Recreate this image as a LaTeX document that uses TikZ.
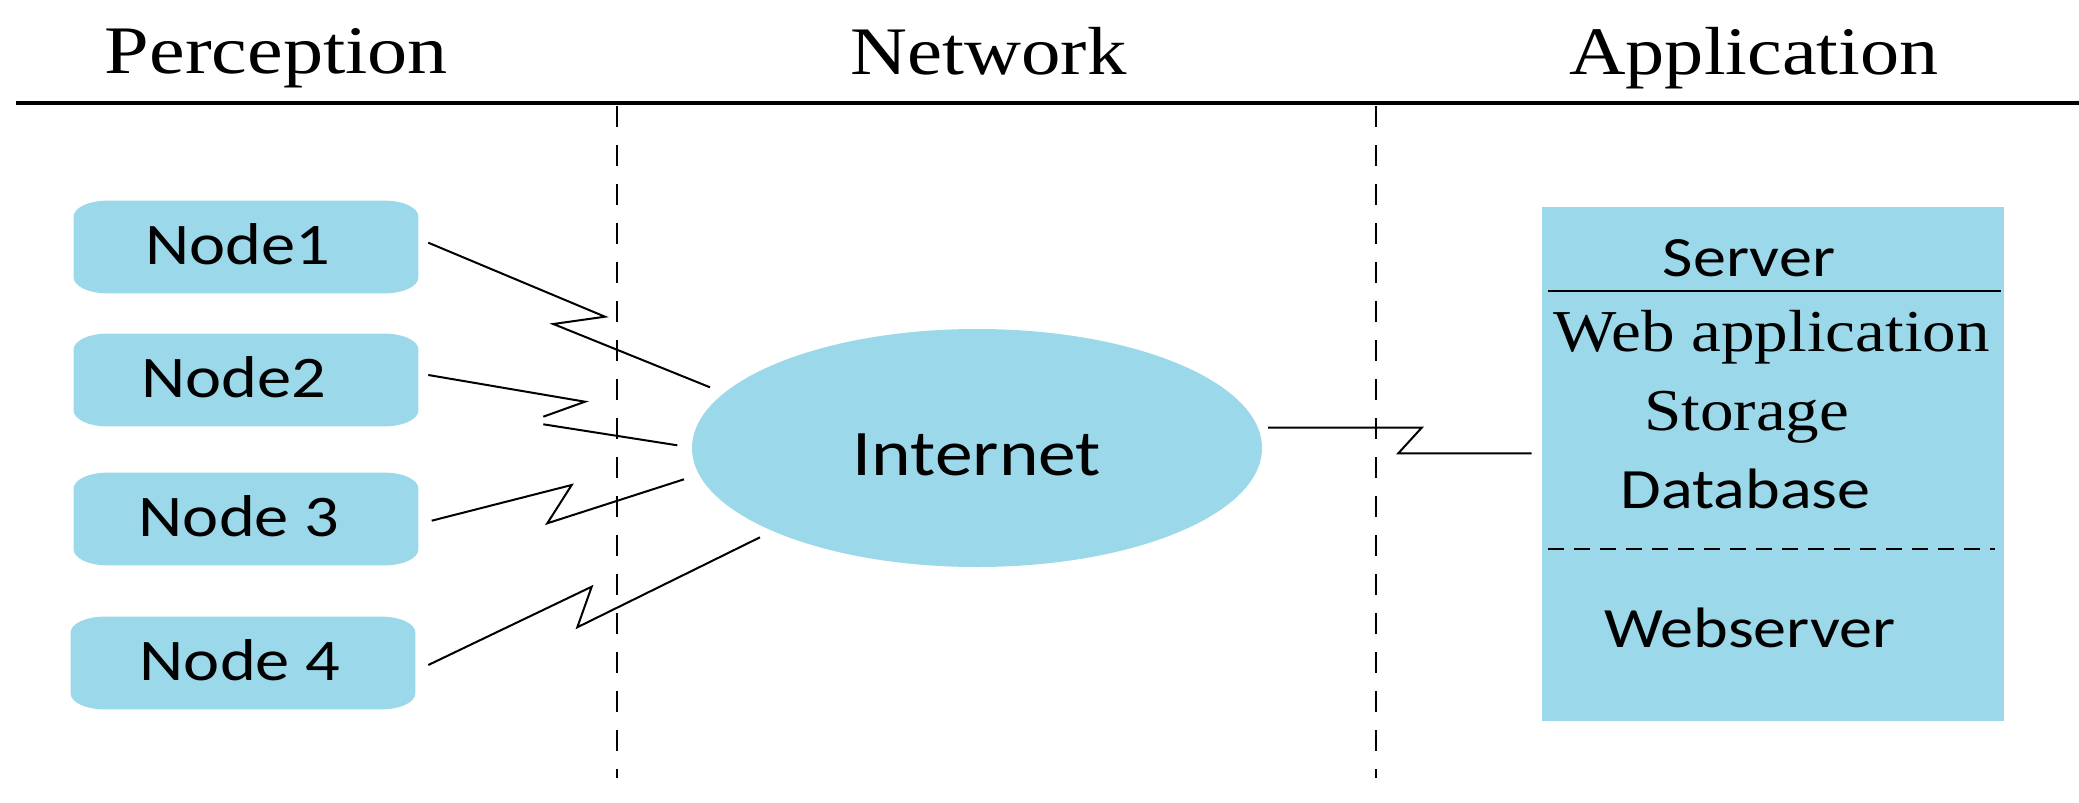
\documentclass[tikz,border=0pt]{standalone}
\usepackage{fontspec}
\usepackage{graphicx}
\setmainfont{Liberation Serif}
\newfontfamily\calfont{Carlito}
\usetikzlibrary{shapes.geometric,backgrounds}
\definecolor{boxblue}{RGB}{155,216,233}
\newcommand\sx[2][1.16]{\scalebox{#1}[1]{#2}}
\newcommand\ebox[1]{%
  \fill[boxblue] ([xshift=17pt]#1.north west) -- ([xshift=-17pt]#1.north east)
    arc[start angle=90,end angle=0,x radius=17pt,y radius=8pt]
    -- ([yshift=8pt]#1.south east)
    arc[start angle=0,end angle=-90,x radius=17pt,y radius=8pt]
    -- ([xshift=17pt]#1.south west)
    arc[start angle=270,end angle=180,x radius=17pt,y radius=8pt]
    -- ([yshift=-8pt]#1.north west)
    arc[start angle=180,end angle=90,x radius=17pt,y radius=8pt] -- cycle;}
\begin{document}
\begin{tikzpicture}[x=0.5pt,y=-0.5pt,
  hdr/.style={inner sep=0pt, anchor=base, font=\fontsize{34pt}{40pt}\selectfont},
  nodebox/.style={inner sep=0pt, minimum width=172pt, minimum height=46pt,
    text height=17.6pt, text depth=0pt, font=\calfont\fontsize{29.5pt}{34pt}\selectfont},
  link/.style={line width=1pt, line join=miter},
  divider/.style={line width=1.4pt, dash pattern=on 10.5pt off 9pt},
  serif/.style={inner sep=0pt, anchor=base, font=\fontsize{29.7pt}{34pt}\selectfont},
  sans/.style={inner sep=0pt, anchor=base, font=\calfont\fontsize{28.5pt}{34pt}\selectfont}]
\useasboundingbox (0,0) rectangle (2079,803);

% headers
\node[hdr] (hp) at (276.5,73.3) {\sx[1.18]{Perception}};
\node[hdr] (hn) at (988.5,75) {\sx{Network}};
\node[hdr] (ha) at (1754,75) {\sx[1.15]{Application}};
\draw[line width=1.8pt] (16,103) -- (2079,103);

% dividers
\draw[divider] (617,106) -- (617,778);
\draw[divider] (1376,106) -- (1376,778);

% perception nodes
\node[nodebox] (n1) at (246,247) {\sx{Node1}\hspace*{8.5pt}};
\node[nodebox] (n2) at (246,380) {\sx{Node2}\hspace*{12pt}};
\node[nodebox] (n3) at (246,519) {\sx{Node 3}\hspace*{7pt}};
\node[nodebox] (n4) at (243,663) {\sx{Node 4}\hspace*{3pt}};
\begin{scope}[on background layer]
  \ebox{n1}\ebox{n2}\ebox{n3}\ebox{n4}
\end{scope}

% internet
\node[ellipse, fill=boxblue, minimum width=285pt, minimum height=119pt, inner sep=0pt,
  text height=27pt, text depth=0pt, font=\calfont\fontsize{32.5pt}{38pt}\selectfont]
  (inet) at (977,448) {\sx{Internet}};

% server
\node[fill=boxblue, minimum width=231pt, minimum height=257pt, inner sep=0pt] (srv) at (1773,464) {};
\node[sans] (srvt) at (1749,276) {\sx{Server}};
\node[serif] (webapp) at (1771.7,351) {\sx[1.13]{Web application}};
\node[serif] (stor) at (1746.7,430.7) {\sx[1.13]{Storage}};
\node[sans] (db) at (1745.5,508.3) {\sx{Database}};
\node[sans] (ws) at (1750,647) {\sx{Webserver}};
\draw[line width=1.2pt] (1548,291) -- (2001,291);
\draw[line width=1pt, dash pattern=on 8pt off 5pt] (1548,548.5) -- (1995,548.5);

% link end points
\coordinate (a1) at (428.3,242.7); \coordinate (b1) at (710,387.3);
\coordinate (a2) at (428.3,375);   \coordinate (b2) at (677.3,445.3);
\coordinate (a3) at (431.7,520.7); \coordinate (b3) at (684,479.3);
\coordinate (a4) at (428.3,665);   \coordinate (b4) at (760,537.3);
\coordinate (a5) at (1268,427.7);  \coordinate (b5) at (1531.7,453.3);

% zigzag links
\draw[link] (a1) -- (605,316.7) -- (553.3,324) -- (b1);
\draw[link] (a2) -- (585,401.7) -- (543.3,416.7) (543.3,424.3) -- (b2);
\draw[link] (a3) -- (571.7,485) -- (547.3,523.3) -- (b3);
\draw[link] (a4) -- (591.7,586.7) -- (577.3,627.3) -- (b4);
\draw[link] (a5) -- (1421.7,427.7) -- (1398.3,453.3) -- (b5);
\end{tikzpicture}
\end{document}
